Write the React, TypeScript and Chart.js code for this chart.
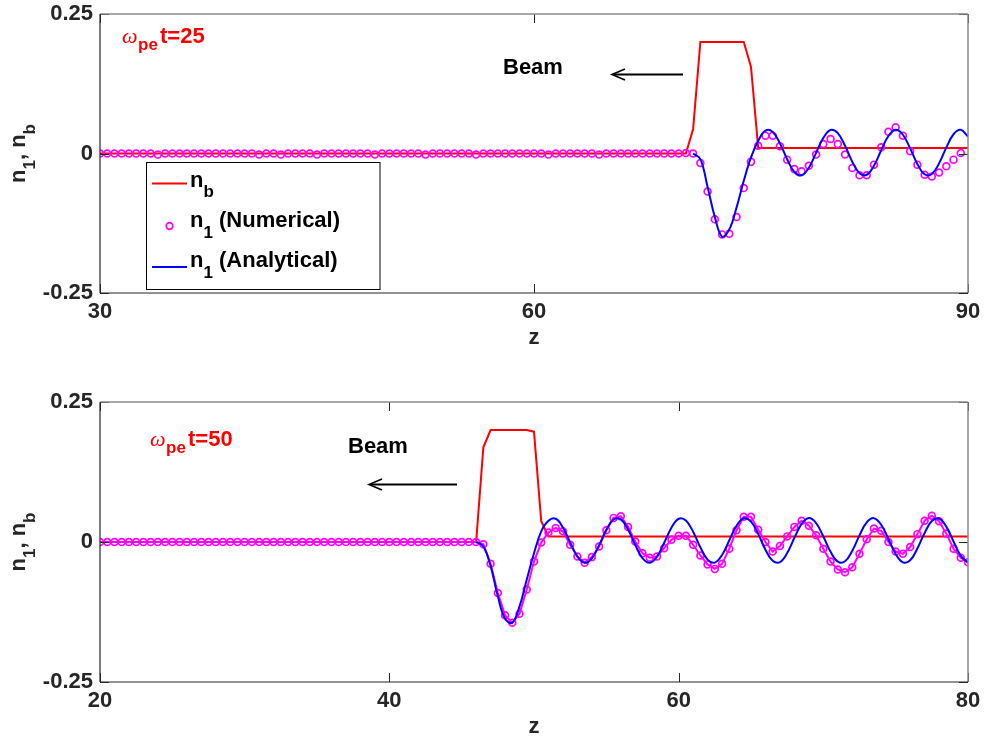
import React, { useEffect, useRef } from "react";
import { Chart, registerables } from "chart.js";
Chart.register(...registerables);

const SANS = "'Liberation Sans', Arial, Helvetica, sans-serif";
const SERIF = "'Liberation Serif', 'Times New Roman', serif";

// ---------------- data: top panel (ωpe t = 25) ----------------
const topXTicks = [30, 60, 90];
const topNbZ = [30, 70.5, 71, 71.5, 74.5, 75, 75.5, 90];
const topNb = [0, 0, 0.044, 0.2, 0.2, 0.155, 0.01, 0.01];
const topNumStart = 30;
const topNum = [
  0, 0, 0, 0, 0, 0, 0, 0, -0.002, 0,
  0, 0, 0, 0, 0, 0, 0, 0, 0, 0,
  0, 0, -0.002, 0, 0, -0.002, 0, 0, 0, 0,
  -0.002, 0, 0, 0, 0, 0, 0, 0, -0.002, 0,
  0, 0, 0, 0, 0, -0.002, 0, 0, 0, 0,
  0, 0, -0.002, 0, 0, 0, 0, 0, 0, 0,
  0, 0, -0.002, 0, 0, 0, 0, 0, 0, -0.002,
  0, 0, 0, 0, 0, 0, 0, 0, 0, 0,
  0,
  0.001, 0, -0.017, -0.068, -0.118, -0.145, -0.144, -0.114, -0.062, -0.015,
  0.014, 0.032, 0.032, 0.013, -0.011, -0.028, -0.032, -0.022, -0.002, 0.017,
  0.026, 0.017, -0.002, -0.026, -0.039, -0.039, -0.02, 0.011, 0.039, 0.047,
  0.032, 0.004, -0.02, -0.038, -0.041, -0.034, -0.023, -0.011, 0.001,
];
const topAnaStart = 71;
const topAna = [
  0, -0.01, -0.06, -0.114, -0.149, -0.136, -0.097, -0.049, -0.007, 0.023,
  0.041, 0.0386, 0.0182, -0.0103, -0.0331, -0.0391, -0.0254, 0.0012, 0.028, 0.042,
  0.0364, 0.0138, -0.0147, -0.0353, -0.0381, -0.022, 0.0059, 0.0314, 0.0425, 0.0336,
  0.0092, -0.0189, -0.0372, -0.0367, -0.0177, 0.0106, 0.0345, 0.0424, 0.0305,
];

// ---------------- data: bottom panel (ωpe t = 50) ----------------
const botXTicks = [20, 40, 60, 80];
const botNbZ = [20, 46, 46.5, 47, 49.5, 50, 50.5, 51, 80];
const botNb = [0, 0, 0.169, 0.2, 0.2, 0.197, 0.037, 0.01, 0.01];
const botNumStart = 20;
const botNum = [
  0, 0, 0, 0, 0, 0, 0, 0, 0, 0,
  0, 0, 0, 0, 0, 0, 0, 0, 0, 0,
  0, 0, 0, 0, 0, 0, 0, 0, 0, 0,
  0, 0, 0, 0, 0, 0, 0, 0, 0, 0,
  0, 0, 0, 0, 0, 0, 0, 0, 0, 0,
  0, 0,
  0, -0.004, -0.039, -0.091, -0.131, -0.144, -0.128, -0.085, -0.035, -0.001,
  0.017, 0.025, 0.019, -0.005, -0.026, -0.037, -0.027, -0.008, 0.021, 0.043,
  0.046, 0.027, 0.001, -0.02, -0.028, -0.026, -0.011, 0.004, 0.011, 0.011,
  -0.005, -0.024, -0.04, -0.048, -0.039, -0.012, 0.021, 0.045, 0.045, 0.022,
  0, -0.017, -0.007, 0.01, 0.027, 0.038, 0.029, 0.012, -0.012, -0.035,
  -0.049, -0.054, -0.045, -0.021, 0.005, 0.024, 0.02, 0, -0.017, -0.021,
  -0.009, 0.014, 0.038, 0.047, 0.037, 0.015, -0.012, -0.028, -0.036,
];
const botAnaStart = 46;
const botAna = [
  0, -0.008, -0.043, -0.097, -0.137, -0.144, -0.115, -0.067, -0.02, 0.019,
  0.038, 0.0415, 0.0259, -0.0009, -0.026, -0.0372, -0.0291, -0.0056, 0.0219, 0.0401,
  0.0403, 0.0222, -0.0053, -0.0289, -0.0372, -0.0263, -0.0013, 0.0256, 0.0415, 0.0385,
  0.0183, -0.0095, -0.0314, -0.0368, -0.0231, 0.0031, 0.0291, 0.0423, 0.0363, 0.0141,
  -0.0137, -0.0335, -0.0359, -0.0198, 0.0075, 0.0323, 0.0427, 0.0338, 0.0098, -0.0176,
  -0.0352, -0.0344, -0.0157, 0.0119, 0.0351, 0.0426, 0.0308, 0.0054, -0.0213, -0.0363,
  -0.0327, -0.0117, 0.0161, 0.0375, 0.042, 0.0275, 0.001, -0.0247, -0.0371,
];

const zStep = 0.5;
const yTicks = [-0.25, 0, 0.25];
const yTickLabels = ["-0.25", "0", "0.25"];
const legendLabels = ["n_b", "n_1 (Numerical)", "n_1 (Analytical)"];

type Part = { t: string; sub?: boolean };

function seq(start: number, ys: number[]) {
  return ys.map((y, i) => ({ x: start + i * zStep, y }));
}
function zip(xs: number[], ys: number[]) {
  return xs.map((x, i) => ({ x, y: ys[i] }));
}
function parse(label: string): Part[] {
  const out: Part[] = [];
  let i = 0;
  while (i < label.length) {
    if (label[i] === "_") {
      out.push({ t: label[i + 1], sub: true });
      i += 2;
    } else {
      let j = i;
      while (j < label.length && label[j] !== "_") j++;
      out.push({ t: label.slice(i, j) });
      i = j;
    }
  }
  return out;
}

const MAIN = `bold 22px ${SANS}`;
const SUBF = `bold 17px ${SANS}`;

function richWidth(ctx: CanvasRenderingContext2D, parts: Part[]) {
  let w = 0;
  for (const p of parts) {
    ctx.font = p.sub ? SUBF : MAIN;
    w += ctx.measureText(p.t).width;
  }
  return w;
}
function drawRich(ctx: CanvasRenderingContext2D, x: number, y: number, parts: Part[], subDy = 10) {
  let cx = x;
  ctx.textAlign = "left";
  ctx.textBaseline = "alphabetic";
  for (const p of parts) {
    ctx.font = p.sub ? SUBF : MAIN;
    ctx.fillText(p.t, cx, y + (p.sub ? subDy : 0));
    cx += ctx.measureText(p.t).width;
  }
}

function line(ctx: CanvasRenderingContext2D, x1: number, y1: number, x2: number, y2: number) {
  ctx.beginPath();
  ctx.moveTo(x1, y1);
  ctx.lineTo(x2, y2);
  ctx.stroke();
}

type PanelCfg = {
  xMin: number;
  xMax: number;
  xTicks: number[];
  nbZ: number[];
  nb: number[];
  numStart: number;
  num: number[];
  anaStart: number;
  ana: number[];
  numLine: boolean;
  canvasTop: number;
  padTop: number;
  xAxisH: number;
  time: string;
  timeX: number;
  timeY: number;
  beamX: number;
  beamY: number;
  arrowFrom: number;
  arrowTo: number;
  arrowY: number;
  zBaseline: number;
  legend: boolean;
};

const W = 986;
const H = 372;

const panels: PanelCfg[] = [
  {
    xMin: 30, xMax: 90, xTicks: topXTicks, nbZ: topNbZ, nb: topNb,
    numStart: topNumStart, num: topNum, anaStart: topAnaStart, ana: topAna,
    numLine: false, canvasTop: 0, padTop: 14, xAxisH: 79,
    time: "25", timeX: 122, timeY: 43,
    beamX: 503, beamY: 74, arrowFrom: 683, arrowTo: 612, arrowY: 74.5,
    zBaseline: 344, legend: true,
  },
  {
    xMin: 20, xMax: 80, xTicks: botXTicks, nbZ: botNbZ, nb: botNb,
    numStart: botNumStart, num: botNum, anaStart: botAnaStart, ana: botAna,
    numLine: true, canvasTop: 372, padTop: 30, xAxisH: 62,
    time: "50", timeX: 150, timeY: 446,
    beamX: 348, beamY: 453, arrowFrom: 457, arrowTo: 369, arrowY: 484.5,
    zBaseline: 733, legend: false,
  },
];

function makeDecor(p: PanelCfg) {
  return {
    id: "decor",
    afterDatasetsDraw(chart: any) {
      const { ctx, chartArea: a, scales } = chart;
      ctx.save();
      ctx.strokeStyle = "#262626";
      ctx.lineWidth = 1;
      for (const v of p.xTicks) {
        const x = Math.round(scales.x.getPixelForValue(v)) + 0.5;
        line(ctx, x, a.bottom, x, a.bottom - 9);
        line(ctx, x, a.top, x, a.top + 9);
      }
      for (const v of yTicks) {
        const y = Math.round(scales.y.getPixelForValue(v)) + 0.5;
        line(ctx, a.left, y, a.left + 9, y);
        line(ctx, a.right, y, a.right - 9, y);
      }
      ctx.strokeStyle = "#8a8a8a";
      ctx.lineWidth = 1.5;
      line(ctx, a.left, a.top, a.right, a.top);
      line(ctx, a.right, a.top, a.right, a.bottom);
      ctx.strokeStyle = "#262626";
      ctx.lineWidth = 1.2;
      line(ctx, a.left, a.top, a.left, a.bottom);
      line(ctx, a.left, a.bottom, a.right, a.bottom);
      ctx.restore();
    },
    afterDraw(chart: any) {
      const { ctx, chartArea: a } = chart;
      const oy = p.canvasTop;
      ctx.save();
      ctx.fillStyle = "#262626";
      ctx.font = MAIN;
      ctx.textAlign = "center";
      ctx.textBaseline = "alphabetic";
      ctx.fillText("z", (a.left + a.right) / 2, p.zBaseline - oy);
      const yParts: Part[] = [{ t: "n" }, { t: "1", sub: true }, { t: ", n" }, { t: "b", sub: true }];
      ctx.save();
      ctx.translate(25, (a.top + a.bottom) / 2);
      ctx.rotate(-Math.PI / 2);
      const w = richWidth(ctx, yParts);
      drawRich(ctx, -w / 2, 0, yParts, 10);
      ctx.restore();
      ctx.fillStyle = "#ff0000";
      ctx.textAlign = "left";
      ctx.textBaseline = "alphabetic";
      ctx.font = `italic 22px ${SERIF}`;
      ctx.fillText("ω", p.timeX, p.timeY - oy);
      ctx.font = SUBF;
      ctx.fillText("pe", p.timeX + 16, p.timeY - oy + 7);
      ctx.font = MAIN;
      ctx.fillText("t=" + p.time, p.timeX + 38, p.timeY - oy);
      ctx.fillStyle = "#000";
      ctx.font = MAIN;
      ctx.fillText("Beam", p.beamX, p.beamY - oy);
      ctx.strokeStyle = "#000";
      ctx.lineWidth = 2;
      const ay = p.arrowY - oy;
      line(ctx, p.arrowFrom, ay, p.arrowTo + 2, ay);
      ctx.lineWidth = 1.6;
      ctx.beginPath();
      ctx.moveTo(p.arrowTo + 13, ay - 5.5);
      ctx.lineTo(p.arrowTo, ay);
      ctx.lineTo(p.arrowTo + 13, ay + 5.5);
      ctx.stroke();
      if (p.legend) {
        const bx = 146.5, by = 162.5 - oy, bw = 233.5, bh = 127;
        ctx.fillStyle = "#fff";
        ctx.fillRect(bx, by, bw, bh);
        ctx.strokeStyle = "#000";
        ctx.lineWidth = 1;
        ctx.strokeRect(bx, by, bw, bh);
        ctx.fillStyle = "#000";
        ctx.strokeStyle = "#ff0000";
        ctx.lineWidth = 2;
        line(ctx, 152, by + 21, 187, by + 21);
        drawRich(ctx, 190, by + 24.5, parse(legendLabels[0]), 10);
        ctx.strokeStyle = "#ff00ff";
        ctx.lineWidth = 1.7;
        ctx.beginPath();
        ctx.arc(169.5, by + 63.5, 3.3, 0, Math.PI * 2);
        ctx.stroke();
        drawRich(ctx, 190, by + 64.5, parse(legendLabels[1]), 11);
        ctx.strokeStyle = "#0000ff";
        ctx.lineWidth = 2;
        line(ctx, 152, by + 104.5, 187, by + 104.5);
        drawRich(ctx, 190, by + 104.5, parse(legendLabels[2]), 11);
      }
      ctx.restore();
    },
  };
}

function makeChart(canvas: HTMLCanvasElement, p: PanelCfg) {
  const tickFont = { family: SANS, size: 22, weight: "bold" as const };
  return new Chart(canvas, {
    type: "line",
    data: {
      datasets: [
        {
          label: "n1 (Analytical)",
          data: seq(p.anaStart, p.ana),
          borderColor: "#0000ff",
          borderWidth: 2,
          pointRadius: 0,
          tension: 0.4,
          fill: false,
        },
        {
          label: "n1 (Numerical)",
          data: seq(p.numStart, p.num),
          borderColor: "#ff00ff",
          borderWidth: 2,
          showLine: p.numLine,
          pointRadius: 3.4,
          pointBorderWidth: 1.7,
          pointBorderColor: "#ff00ff",
          pointBackgroundColor: "rgba(0,0,0,0)",
          tension: 0,
          fill: false,
        },
        {
          label: "nb",
          data: zip(p.nbZ, p.nb),
          borderColor: "#ff0000",
          borderWidth: 2,
          pointRadius: 0,
          tension: 0,
          fill: false,
        },
      ],
    },
    options: {
      animation: false,
      responsive: false,
      events: [],
      layout: { padding: { left: 0, right: W - 968, top: p.padTop, bottom: 0 } },
      plugins: { legend: { display: false }, tooltip: { enabled: false } },
      scales: {
        x: {
          type: "linear",
          min: p.xMin,
          max: p.xMax,
          afterBuildTicks: (s: any) => {
            s.ticks = p.xTicks.map((v) => ({ value: v }));
          },
          afterFit: (s: any) => {
            s.height = p.xAxisH;
            s.paddingLeft = 0;
            s.paddingRight = 0;
          },
          grid: { display: false, drawTicks: false },
          border: { display: false },
          ticks: {
            font: tickFont,
            color: "#262626",
            padding: 6,
            maxRotation: 0,
            autoSkip: false,
            callback: (v: any) => String(v),
          },
        },
        y: {
          type: "linear",
          min: -0.25,
          max: 0.25,
          afterBuildTicks: (s: any) => {
            s.ticks = yTicks.map((v) => ({ value: v }));
          },
          afterFit: (s: any) => {
            s.width = 100;
            s.paddingTop = 0;
            s.paddingBottom = 0;
          },
          grid: { display: false, drawTicks: false },
          border: { display: false },
          ticks: {
            font: tickFont,
            color: "#262626",
            padding: 7,
            callback: (v: any) => {
              const i = yTicks.indexOf(v);
              return i >= 0 ? yTickLabels[i] : "";
            },
          },
        },
      },
    },
    plugins: [makeDecor(p)],
  } as any);
}

export default function App() {
  const topRef = useRef<HTMLCanvasElement>(null);
  const botRef = useRef<HTMLCanvasElement>(null);
  useEffect(() => {
    const c1 = makeChart(topRef.current!, panels[0]);
    const c2 = makeChart(botRef.current!, panels[1]);
    return () => {
      c1.destroy();
      c2.destroy();
    };
  }, []);
  return (
    <div style={{ position: "absolute", left: 0, top: 0, width: W, height: 744, background: "#fff" }}>
      <canvas ref={topRef} width={W} height={H} style={{ position: "absolute", left: 0, top: 0, width: W, height: H }} />
      <canvas ref={botRef} width={W} height={H} style={{ position: "absolute", left: 0, top: H, width: W, height: H }} />
    </div>
  );
}
